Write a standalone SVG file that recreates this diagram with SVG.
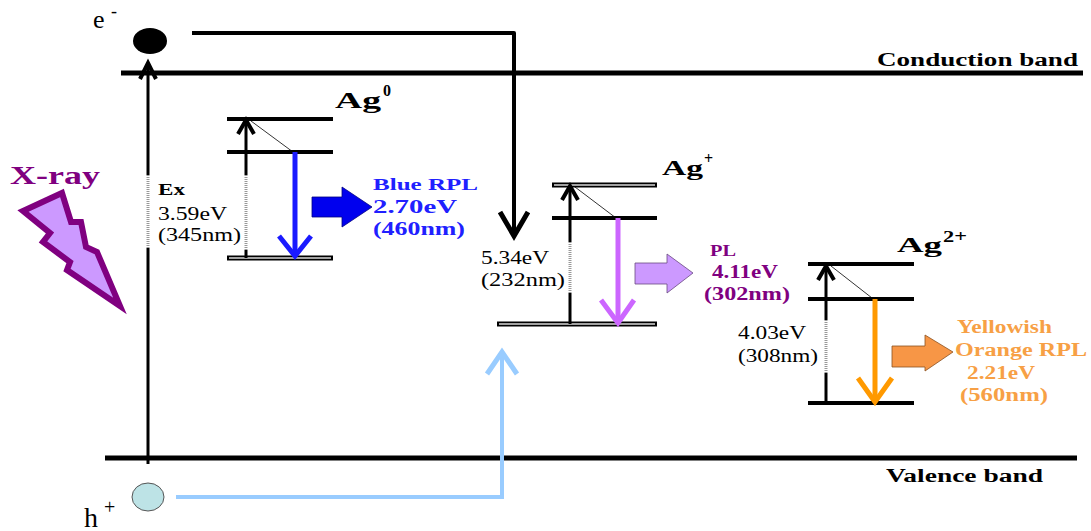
<svg xmlns="http://www.w3.org/2000/svg" width="1091" height="531" viewBox="0 0 1091 531">
<style>
.t{font-family:"Liberation Serif","Times New Roman",serif;fill:#000}
.b{font-weight:bold}
.lvl{stroke:#000;stroke-width:4;fill:none}
.dbl{stroke:#000;stroke-width:5;fill:none}
.dblin{stroke:#d8d8d8;stroke-width:1.5;fill:none}
.vk{stroke:#000;stroke-width:3;fill:none}
.dot{stroke:#999;stroke-width:3;stroke-dasharray:1 1;fill:none}
.thin{stroke:#000;stroke-width:0.8;fill:none}
.chev{stroke:#000;stroke-width:4;fill:none;stroke-linejoin:miter}
.blue{fill:#2020ff}
.purp{fill:#800080}
.orng{fill:#f7a045}
</style>
<rect width="1091" height="531" fill="#fff"/>

<g id="bands">
  <line x1="121" y1="73" x2="1083" y2="73" stroke="#000" stroke-width="5"/>
  <text class="t b" x="877" y="66" font-size="18" textLength="201" lengthAdjust="spacingAndGlyphs">Conduction band</text>
  <line x1="105" y1="458" x2="1077" y2="458" stroke="#000" stroke-width="5"/>
  <text class="t b" x="886" y="482" font-size="18" textLength="157" lengthAdjust="spacingAndGlyphs">Valence band</text>
</g>

<g id="electron">
  <ellipse cx="150" cy="41" rx="17" ry="13" fill="#000"/>
  <text class="t" x="93" y="28" font-size="26">e</text>
  <text class="t" x="111" y="17" font-size="18">-</text>
</g>

<g id="hole">
  <ellipse cx="148" cy="497" rx="16" ry="14" fill="#bde3e6" stroke="#555" stroke-width="1"/>
  <text class="t" x="84" y="527" font-size="28">h</text>
  <text class="t" x="104" y="514" font-size="20">+</text>
</g>

<g id="xray">
  <text class="t b purp" x="10" y="184" font-size="26" textLength="90" lengthAdjust="spacingAndGlyphs">X-ray</text>
  <polygon points="23,211 62,193 71,222 81,222 86,247 97,252 120,306 67,270 70,262 43,242 50,233" fill="#cc99ff" stroke="#800080" stroke-width="6" stroke-linejoin="miter"/>
</g>

<g id="excitation">
  <line class="vk" x1="148" y1="464" x2="148" y2="248"/>
  <line class="dot" x1="148" y1="248" x2="148" y2="175"/>
  <line class="vk" x1="148" y1="175" x2="148" y2="63"/>
  <polyline class="chev" points="140,79 148,63 156,79"/>
  <text class="t b" x="158" y="195" font-size="17" textLength="27" lengthAdjust="spacingAndGlyphs">Ex</text>
  <text class="t" x="158" y="220" font-size="19" textLength="69" lengthAdjust="spacingAndGlyphs">3.59eV</text>
  <text class="t" x="158" y="241" font-size="19" textLength="83" lengthAdjust="spacingAndGlyphs">(345nm)</text>
</g>

<g id="ag0">
  <text class="t b" x="335" y="108" font-size="24" textLength="46" lengthAdjust="spacingAndGlyphs">Ag</text>
  <text class="t b" x="383" y="96" font-size="16">0</text>
  <line class="lvl" x1="227" y1="119" x2="333" y2="119"/>
  <line class="lvl" x1="227" y1="152" x2="333" y2="152"/>
  <line class="dbl" x1="227" y1="258" x2="333" y2="258"/>
  <line class="dblin" x1="229" y1="258" x2="331" y2="258"/>
  <line class="vk" x1="246" y1="258" x2="246" y2="250"/>
  <line class="dot" x1="246" y1="250" x2="246" y2="175"/>
  <line class="vk" x1="246" y1="175" x2="246" y2="121"/>
  <polyline class="chev" points="238,134 246,120 254,134"/>
  <line class="thin" x1="251" y1="121" x2="293" y2="152"/>
  <line x1="295" y1="152" x2="295" y2="256" stroke="#1a1aff" stroke-width="5"/>
  <polyline points="279,236 295,256 311,236" fill="none" stroke="#1a1aff" stroke-width="5"/>
  <polygon points="312,197 342,197 342,187 372,207 342,227 342,217 312,217" fill="#0000ee" stroke="#000080" stroke-width="0.8"/>
  <text class="t b blue" x="373" y="190" font-size="17" textLength="105" lengthAdjust="spacingAndGlyphs">Blue RPL</text>
  <text class="t b blue" x="373" y="213" font-size="18" textLength="84" lengthAdjust="spacingAndGlyphs">2.70eV</text>
  <text class="t b blue" x="373" y="235" font-size="18" textLength="92" lengthAdjust="spacingAndGlyphs">(460nm)</text>
</g>

<g id="agplus">
  <text class="t b" x="662" y="175" font-size="22" textLength="41" lengthAdjust="spacingAndGlyphs">Ag</text>
  <text class="t b" x="704" y="164" font-size="16">+</text>
  <line class="dbl" x1="552" y1="185" x2="657" y2="185"/>
  <line class="dblin" x1="554" y1="185" x2="655" y2="185"/>
  <line class="lvl" x1="552" y1="218" x2="657" y2="218"/>
  <line class="dbl" x1="497" y1="324" x2="657" y2="324"/>
  <line class="dblin" x1="499" y1="324" x2="655" y2="324"/>
  <line class="vk" x1="570" y1="324" x2="570" y2="293"/>
  <line class="dot" x1="570" y1="293" x2="570" y2="242"/>
  <line class="vk" x1="570" y1="242" x2="570" y2="187"/>
  <polyline class="chev" points="562,200 570,186 578,200"/>
  <line class="thin" x1="575" y1="187" x2="616" y2="218"/>
  <line x1="618" y1="218" x2="618" y2="323" stroke="#cc66ff" stroke-width="5"/>
  <polyline points="601,300 618,323 634,300" fill="none" stroke="#cc66ff" stroke-width="5"/>
  <polygon points="635,263 667,263 667,254 693,273 667,293 667,284 635,284" fill="#cc99ff" stroke="#6a4a80" stroke-width="0.8"/>
  <text class="t" x="481" y="264" font-size="19" textLength="68" lengthAdjust="spacingAndGlyphs">5.34eV</text>
  <text class="t" x="481" y="286" font-size="19" textLength="84" lengthAdjust="spacingAndGlyphs">(232nm)</text>
  <text class="t b purp" x="710" y="256" font-size="17" textLength="26" lengthAdjust="spacingAndGlyphs">PL</text>
  <text class="t b purp" x="712" y="278" font-size="18" textLength="66" lengthAdjust="spacingAndGlyphs">4.11eV</text>
  <text class="t b purp" x="704" y="300" font-size="18" textLength="86" lengthAdjust="spacingAndGlyphs">(302nm)</text>
</g>

<g id="ag2plus">
  <text class="t b" x="897" y="252" font-size="22" textLength="45" lengthAdjust="spacingAndGlyphs">Ag</text>
  <text class="t b" x="943" y="242" font-size="16" textLength="24" lengthAdjust="spacingAndGlyphs">2+</text>
  <line class="lvl" x1="808" y1="264" x2="914" y2="264"/>
  <line class="lvl" x1="808" y1="299" x2="914" y2="299"/>
  <line class="lvl" x1="808" y1="403" x2="914" y2="403"/>
  <line class="vk" x1="826" y1="403" x2="826" y2="373"/>
  <line class="dot" x1="826" y1="373" x2="826" y2="320"/>
  <line class="vk" x1="826" y1="320" x2="826" y2="266"/>
  <polyline class="chev" points="818,280 826,266 834,280"/>
  <line class="thin" x1="831" y1="266" x2="872" y2="298"/>
  <line x1="875" y1="299" x2="875" y2="402" stroke="#ff9900" stroke-width="5"/>
  <polyline points="858,378 875,402 892,378" fill="none" stroke="#ff9900" stroke-width="5"/>
  <polygon points="892,346 925,346 925,335 953,352 925,371 925,367 892,367" fill="#f79646" stroke="#8a5020" stroke-width="0.8"/>
  <text class="t" x="738" y="339" font-size="19" textLength="68" lengthAdjust="spacingAndGlyphs">4.03eV</text>
  <text class="t" x="738" y="362" font-size="19" textLength="80" lengthAdjust="spacingAndGlyphs">(308nm)</text>
  <text class="t b orng" x="957" y="333" font-size="18" textLength="95" lengthAdjust="spacingAndGlyphs">Yellowish</text>
  <text class="t b orng" x="955" y="356" font-size="18" textLength="132" lengthAdjust="spacingAndGlyphs">Orange RPL</text>
  <text class="t b orng" x="967" y="379" font-size="18" textLength="68" lengthAdjust="spacingAndGlyphs">2.21eV</text>
  <text class="t b orng" x="960" y="401" font-size="18" textLength="88" lengthAdjust="spacingAndGlyphs">(560nm)</text>
</g>

<g id="connectors">
  <polyline points="192,33 514,33 514,236" fill="none" stroke="#000" stroke-width="4" stroke-linejoin="round"/>
  <polyline points="500,212 514,236 528,212" fill="none" stroke="#000" stroke-width="5"/>
  <polyline points="176,497 502,497 502,352" fill="none" stroke="#99ccff" stroke-width="4"/>
  <polyline points="487,374 502,352 517,374" fill="none" stroke="#99ccff" stroke-width="5"/>
</g>
</svg>
